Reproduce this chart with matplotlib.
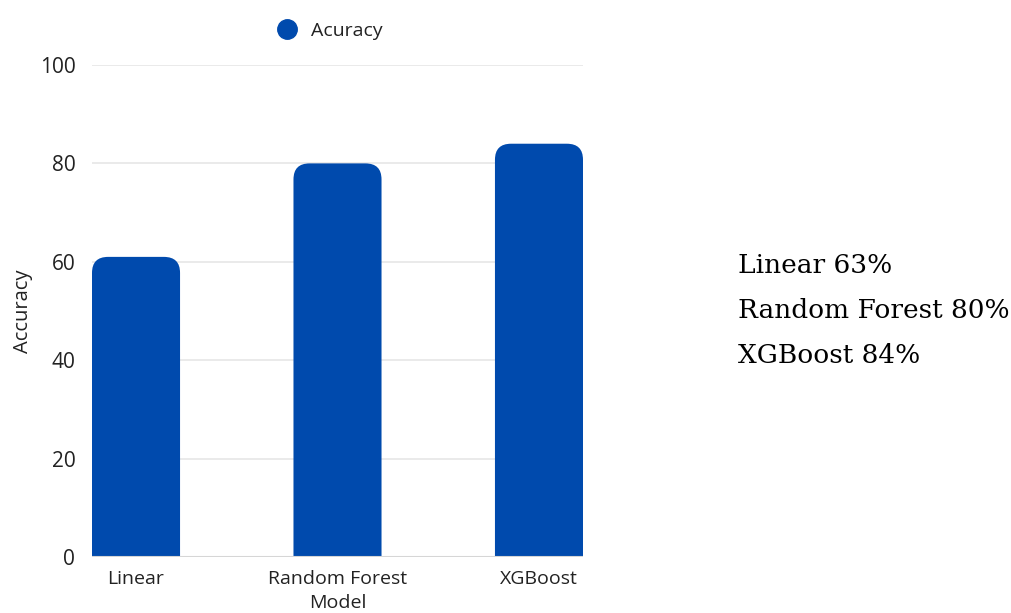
import matplotlib
matplotlib.use("Agg")
import matplotlib.pyplot as plt
from matplotlib.patches import FancyBboxPatch
from matplotlib.lines import Line2D

models = ["Linear", "Random Forest", "XGBoost"]
accuracy = [61, 80, 84]
side_labels = ["Linear 63%", "Random Forest 80%", "XGBoost 84%"]
yticks = [0, 20, 40, 60, 80, 100]

BLUE = "#004AAD"
plt.rcParams['font.family'] = ['Open Sans', 'DejaVu Sans']

fig = plt.figure(figsize=(10.11, 6.13), dpi=100)
ax = fig.add_axes([92/1011, 1-557/613, (583-92)/1011, (557-65)/613])

width = 0.437
xs = list(range(len(models)))
ax.set_xlim(-width/2, len(models)-1+width/2)
ax.set_ylim(0, 100)

bars = ax.bar(xs, accuracy, width=width, color=BLUE, alpha=0)
# rounded tops
for rect in bars:
    x0 = rect.get_x(); w = rect.get_width(); h = rect.get_height()
    p = FancyBboxPatch((x0, -10), w, h + 10,
                       boxstyle="round,pad=0,rounding_size=0.08",
                       mutation_aspect=40.6, facecolor=BLUE, edgecolor='none',
                       zorder=3)
    ax.add_patch(p)

ax.set_yticks(yticks)
ax.set_xticks(xs)
ax.set_xticklabels(models)
for s in ax.spines.values():
    s.set_visible(False)
ax.grid(axis='y', color='#e6e6e6', linewidth=1.2, zorder=0)
ax.axhline(0, color='#d6d6d6', linewidth=1.5, zorder=4)
ax.tick_params(axis='both', length=0, colors='#222222')
ax.tick_params(axis='y', pad=12, labelsize=15)
ax.tick_params(axis='x', pad=9, labelsize=14)
ax.set_xlabel("Model", fontsize=14, color='#222222', labelpad=5)
ax.set_ylabel("Accuracy", fontsize=14.5, color='#222222', labelpad=5)

handle = Line2D([], [], marker='o', linestyle='none', markersize=14,
                markerfacecolor=BLUE, markeredgecolor=BLUE)
ax.legend([handle], ["Acuracy"], loc='lower center', bbox_to_anchor=(0.475, 1.035),
          frameon=False, fontsize=14, handletextpad=0.2, borderaxespad=0,
          labelcolor='#222222')

for i, t in enumerate(side_labels):
    fig.text(738/1011, 1 - (273 + 45*i)/613, t, fontsize=19,
             family=['DejaVu Serif'], color='black', va='baseline', ha='left')

fig.savefig("out.png", dpi=100)
